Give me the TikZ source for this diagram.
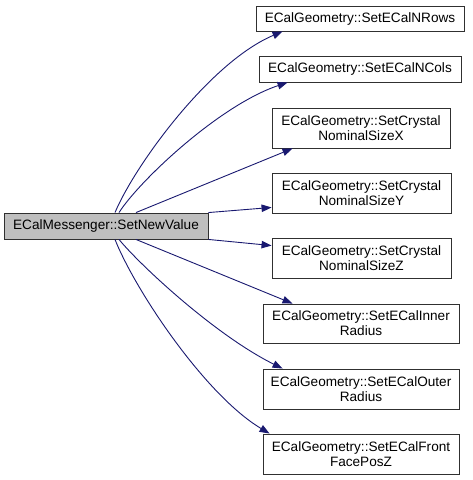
\documentclass[tikz,border=0pt]{standalone}
\usepackage{fontspec}
\setmainfont{Liberation Sans}
\usetikzlibrary{arrows.meta}
\definecolor{edgeblue}{HTML}{191970}
\definecolor{rootfill}{HTML}{BFBFBF}
\definecolor{boxline}{HTML}{303030}
\begin{document}
\begin{tikzpicture}[x=1pt,y=-1pt,
  box/.style={draw=boxline, line width=0.9pt, fill=white, inner sep=0pt, align=center,
    font=\fontsize{13.6}{15}\selectfont},
  edge/.style={draw=edgeblue, line width=0.9pt, -{Triangle[length=10pt,width=7.5pt]}}]
\useasboundingbox (0,0) rectangle (472,480);
\node[box, fill=rootfill, minimum width=204pt, minimum height=26pt] (src) at (106,226) {ECalMessenger::SetNewValue};
\node[box, minimum width=208pt, minimum height=25pt] (t1) at (360,18.5) {ECalGeometry::SetECalNRows};
\node[box, minimum width=202pt, minimum height=26pt] (t2) at (360,69) {ECalGeometry::SetECalNCols};
\node[box, minimum width=178pt, minimum height=40pt] (t3) at (361,128) {ECalGeometry::SetCrystal\\NominalSizeX};
\node[box, minimum width=179pt, minimum height=40pt] (t4) at (361.5,193) {ECalGeometry::SetCrystal\\NominalSizeY};
\node[box, minimum width=179pt, minimum height=40pt] (t5) at (361.5,258) {ECalGeometry::SetCrystal\\NominalSizeZ};
\node[box, minimum width=196pt, minimum height=39pt] (t6) at (361,323.5) {ECalGeometry::SetECalInner\\Radius};
\node[box, minimum width=196pt, minimum height=40pt] (t7) at (361,389) {ECalGeometry::SetECalOuter\\Radius};
\node[box, minimum width=196pt, minimum height=40pt] (t8) at (361,454) {ECalGeometry::SetECalFront\\FacePosZ};

\draw[edge] ([xshift=9pt]src.north) .. controls (135,165) and (210,62) .. ([xshift=27pt]t1.south west);
\draw[edge] ([xshift=13pt]src.north) .. controls (140,180) and (220,105) .. ([xshift=29pt]t2.south west);
\draw[edge] ([xshift=30pt]src.north) -- ([xshift=21pt]t3.south west);
\draw[edge] (src.north east) -- ([yshift=6pt]t4.south west);
\draw[edge] (src.south east) -- ([yshift=-8pt]t5.north west);
\draw[edge] ([xshift=30pt]src.south) -- ([xshift=30pt]t6.north west);
\draw[edge] ([xshift=13pt]src.south) .. controls (140,265) and (215,335) .. ([xshift=20pt]t7.north west);
\draw[edge] ([xshift=9pt]src.south) .. controls (135,290) and (205,395) .. ([xshift=7pt]t8.north west);
\end{tikzpicture}
\end{document}
